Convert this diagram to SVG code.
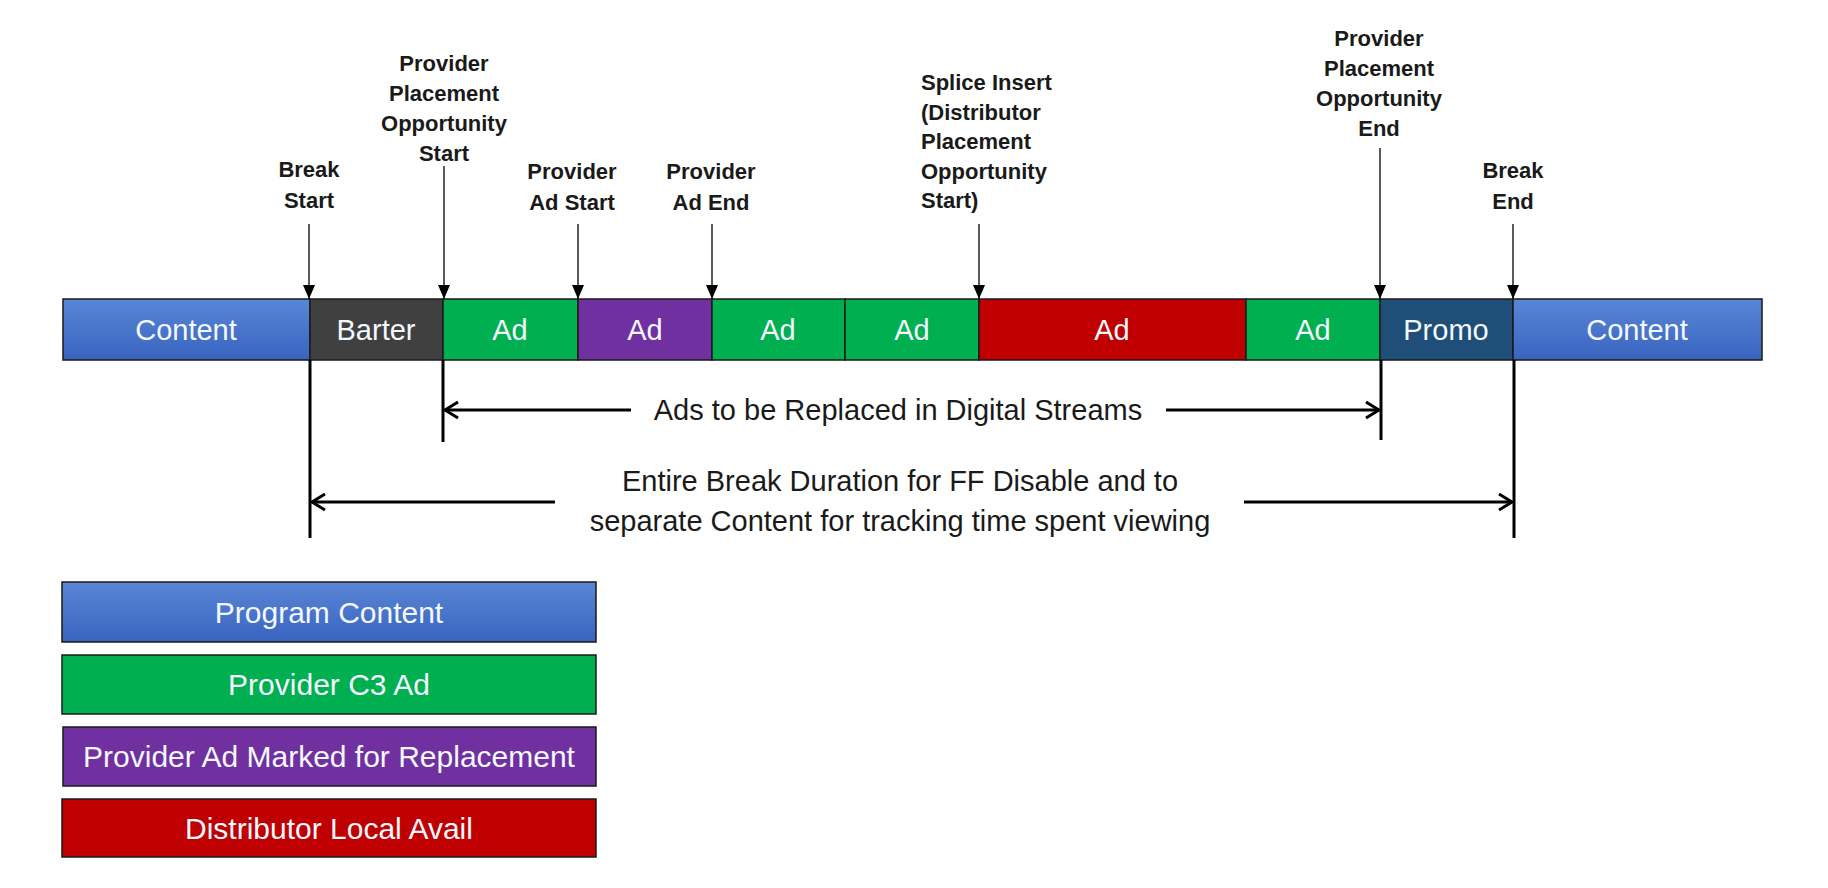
<svg xmlns="http://www.w3.org/2000/svg" width="1828" height="888" viewBox="0 0 1828 888">
<style>
.seg{stroke:#1a1a1a;stroke-width:1.5}
.bt{font-family:"Liberation Sans",Arial,sans-serif;font-size:29px;fill:#f4f8ff;text-anchor:middle}
.lt{font-family:"Liberation Sans",Arial,sans-serif;font-size:30px;fill:#f4f8ff;text-anchor:middle}
.lab{font-family:"Liberation Sans",Arial,sans-serif;font-size:22px;font-weight:bold;fill:#1a1a1a;text-anchor:middle}
.labl{font-family:"Liberation Sans",Arial,sans-serif;font-size:22px;font-weight:bold;fill:#1a1a1a}
.note{font-family:"Liberation Sans",Arial,sans-serif;font-size:29px;fill:#1a1a1a;text-anchor:middle}
.ptr{stroke:#222;stroke-width:1.5;fill:none}
.dim{stroke:#000;stroke-width:3;fill:none}
.ext{stroke:#000;stroke-width:3}
</style>
<defs>
<linearGradient id="blue" x1="0" y1="0" x2="0" y2="1">
<stop offset="0" stop-color="#5a86d6"/>
<stop offset="1" stop-color="#3864c0"/>
</linearGradient>
<marker id="tri" markerWidth="14" markerHeight="12" refX="14" refY="6" orient="auto" markerUnits="userSpaceOnUse" viewBox="0 0 14 12">
<path d="M0,0 L14,6 L0,12 Z" fill="#000"/>
</marker>
<marker id="chev" markerWidth="18" markerHeight="20" refX="16" refY="10" orient="auto" markerUnits="userSpaceOnUse" viewBox="0 0 18 20">
<path d="M3,2 L16,10 L3,18" fill="none" stroke="#000" stroke-width="3"/>
</marker>
</defs>
<rect width="1828" height="888" fill="#fff"/>

<g id="timeline">
<g id="seg-content1"><rect class="seg" x="63" y="299" width="247" height="61" fill="url(#blue)"/><text class="bt" x="186" y="340">Content</text></g>
<g id="seg-barter"><rect class="seg" x="310" y="299" width="133" height="61" fill="#404040"/><text class="bt" x="376" y="340">Barter</text></g>
<g id="seg-ad1"><rect class="seg" x="443" y="299" width="135" height="61" fill="#00b050"/><text class="bt" x="510" y="340">Ad</text></g>
<g id="seg-ad2"><rect class="seg" x="578" y="299" width="134" height="61" fill="#7030a0"/><text class="bt" x="645" y="340">Ad</text></g>
<g id="seg-ad3"><rect class="seg" x="712" y="299" width="133" height="61" fill="#00b050"/><text class="bt" x="778" y="340">Ad</text></g>
<g id="seg-ad4"><rect class="seg" x="845" y="299" width="134" height="61" fill="#00b050"/><text class="bt" x="912" y="340">Ad</text></g>
<g id="seg-ad5"><rect class="seg" x="979" y="299" width="267" height="61" fill="#c00000"/><text class="bt" x="1112" y="340">Ad</text></g>
<g id="seg-ad6"><rect class="seg" x="1246" y="299" width="134" height="61" fill="#00b050"/><text class="bt" x="1313" y="340">Ad</text></g>
<g id="seg-promo"><rect class="seg" x="1380" y="299" width="133" height="61" fill="#1f4e79"/><text class="bt" x="1446" y="340">Promo</text></g>
<g id="seg-content2"><rect class="seg" x="1513" y="299" width="249" height="61" fill="url(#blue)"/><text class="bt" x="1637" y="340">Content</text></g>
</g>

<g id="labels">
<g id="lbl-break-start"><text class="lab" x="309" y="177">Break</text><text class="lab" x="309" y="208">Start</text></g>
<g id="lbl-ppo-start"><text class="lab" x="444" y="71">Provider</text><text class="lab" x="444" y="101">Placement</text><text class="lab" x="444" y="131">Opportunity</text><text class="lab" x="444" y="161">Start</text></g>
<g id="lbl-ad-start"><text class="lab" x="572" y="179">Provider</text><text class="lab" x="572" y="210">Ad Start</text></g>
<g id="lbl-ad-end"><text class="lab" x="711" y="179">Provider</text><text class="lab" x="711" y="210">Ad End</text></g>
<g id="lbl-splice"><text class="labl" x="921" y="90">Splice Insert</text><text class="labl" x="921" y="120">(Distributor</text><text class="labl" x="921" y="149">Placement</text><text class="labl" x="921" y="179">Opportunity</text><text class="labl" x="921" y="208">Start)</text></g>
<g id="lbl-ppo-end"><text class="lab" x="1379" y="46">Provider</text><text class="lab" x="1379" y="76">Placement</text><text class="lab" x="1379" y="106">Opportunity</text><text class="lab" x="1379" y="136">End</text></g>
<g id="lbl-break-end"><text class="lab" x="1513" y="178">Break</text><text class="lab" x="1513" y="209">End</text></g>
</g>

<g id="connectors">
<line class="ptr" x1="309" y1="224" x2="309" y2="299" marker-end="url(#tri)"/>
<line class="ptr" x1="444" y1="166" x2="444" y2="299" marker-end="url(#tri)"/>
<line class="ptr" x1="578" y1="224" x2="578" y2="299" marker-end="url(#tri)"/>
<line class="ptr" x1="712" y1="224" x2="712" y2="299" marker-end="url(#tri)"/>
<line class="ptr" x1="979" y1="224" x2="979" y2="299" marker-end="url(#tri)"/>
<line class="ptr" x1="1380" y1="148" x2="1380" y2="299" marker-end="url(#tri)"/>
<line class="ptr" x1="1513" y1="224" x2="1513" y2="299" marker-end="url(#tri)"/>
<line class="ext" x1="310" y1="360" x2="310" y2="538"/>
<line class="ext" x1="443" y1="360" x2="443" y2="442"/>
<line class="ext" x1="1381" y1="360" x2="1381" y2="440"/>
<line class="ext" x1="1514" y1="360" x2="1514" y2="538"/>
<line class="dim" x1="631" y1="410" x2="445" y2="410" marker-end="url(#chev)"/>
<line class="dim" x1="1166" y1="410" x2="1379" y2="410" marker-end="url(#chev)"/>
<line class="dim" x1="555" y1="502" x2="312" y2="502" marker-end="url(#chev)"/>
<line class="dim" x1="1244" y1="502" x2="1512" y2="502" marker-end="url(#chev)"/>
</g>

<g id="dim-labels">
<text class="note" x="898" y="420">Ads to be Replaced in Digital Streams</text>
<text class="note" x="900" y="491">Entire Break Duration for FF Disable and to</text>
<text class="note" x="900" y="531">separate Content for tracking time spent viewing</text>
</g>

<g id="legend">
<g id="leg-program"><rect class="seg" x="62" y="582" width="534" height="60" fill="url(#blue)"/><text class="lt" x="329" y="623">Program Content</text></g>
<g id="leg-c3"><rect class="seg" x="62" y="655" width="534" height="59" fill="#00b050"/><text class="lt" x="329" y="695">Provider C3 Ad</text></g>
<g id="leg-replace"><rect class="seg" x="63" y="727" width="533" height="59" fill="#7030a0"/><text class="lt" x="329" y="767">Provider Ad Marked for Replacement</text></g>
<g id="leg-local"><rect class="seg" x="62" y="799" width="534" height="58" fill="#c00000"/><text class="lt" x="329" y="839">Distributor Local Avail</text></g>
</g>
</svg>
